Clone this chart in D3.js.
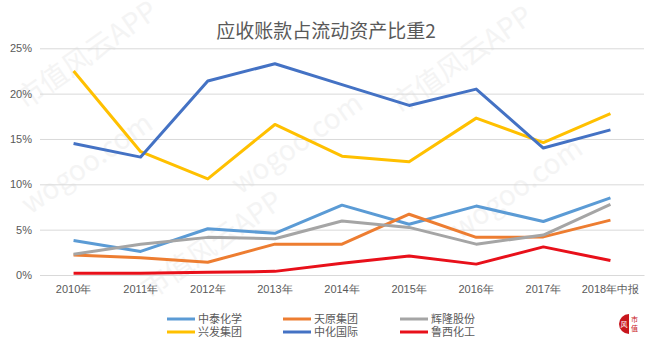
<!DOCTYPE html>
<html>
<head>
<meta charset="utf-8">
<script src="https://cdn.jsdelivr.net/npm/d3@7"></script>
<style>
    body { margin: 0; background: #fff; }
    svg { display: block; font-family: "Noto Sans CJK SC", "Noto Sans", sans-serif; }
</style>
</head>
<body>
<div id="chart"></div>
<script>
// categories and series (percent of current assets)
var years = ["2010年", "2011年", "2012年", "2013年", "2014年", "2015年", "2016年", "2017年", "2018年中报"];
var yTicks = [0, 5, 10, 15, 20, 25];

var zhongtai = [3.8, 2.6, 5.1, 4.6, 7.7, 5.6, 7.6, 5.9, 8.5];
var tianyuan = [2.2, 1.9, 1.4, 3.4, 3.4, 6.7, 4.15, 4.2, 6.05];
var huilong = [2.3, 3.4, 4.15, 4.0, 5.95, 5.25, 3.4, 4.4, 7.8];
var xingfa = [22.5, 13.6, 10.6, 16.6, 13.1, 12.5, 17.3, 14.6, 17.8];
var zhonghua = [14.5, 13.0, 21.4, 23.3, 21.0, 18.7, 20.5, 14.0, 16.0];
var luxi = [0.2, 0.2, 0.3, 0.4, 1.3, 2.1, 1.2, 3.1, 1.6];

var seriesNames = ["中泰化学", "天原集团", "辉隆股份", "兴发集团", "中化国际", "鲁西化工"];
var seriesColors = ["#5b9bd5", "#ed7d31", "#a5a5a5", "#ffc000", "#4472c4", "#e8101a"];
var seriesValues = [zhongtai, tianyuan, huilong, xingfa, zhonghua, luxi];

var width = 652, height = 349;

var svg = d3.select("#chart").append("svg")
    .attr("width", width)
    .attr("height", height);

// faint watermark
var marks = [
    { t: "市值风云APP", x: 25, y: 110 },
    { t: "wogoo.com", x: 30, y: 215 },
    { t: "市值风云APP", x: 150, y: 300 },
    { t: "wogoo.com", x: 240, y: 195 },
    { t: "市值风云APP", x: 400, y: 115 },
    { t: "wogoo.com", x: 460, y: 240 }
];
svg.append("g").selectAll("text")
    .data(marks)
    .enter().append("text")
    .attr("transform", function (d) { return "translate(" + d.x + "," + d.y + ") rotate(-35)"; })
    .attr("font-size", 28)
    .attr("fill", "#f4f4f4")
    .text(function (d) { return d.t; });

var x = d3.scaleBand().domain(years).range([40, 644]);
var y = d3.scaleLinear().domain([0, 25]).range([275, 48.3]);

// title
svg.append("text")
    .attr("x", 326)
    .attr("y", 38)
    .attr("text-anchor", "middle")
    .attr("font-size", 19)
    .attr("fill", "#595959")
    .text("应收账款占流动资产比重2");

// gridlines + y labels
var yAxis = svg.append("g")
    .attr("transform", "translate(40,0)")
    .call(d3.axisLeft(y).tickValues(yTicks).tickSize(-604).tickPadding(8)
        .tickFormat(function (d) { return d + "%"; }));
yAxis.select(".domain").remove();
yAxis.selectAll("line").attr("stroke", "#d9d9d9");
yAxis.selectAll("text").attr("fill", "#595959").attr("font-size", 11);

// x labels
var xAxis = svg.append("g")
    .attr("transform", "translate(0,275)")
    .call(d3.axisBottom(x).tickSize(0).tickPadding(10));
xAxis.select(".domain").attr("stroke", "#d9d9d9");
xAxis.selectAll("text").attr("fill", "#595959").attr("font-size", 11);

var line = d3.line()
    .x(function (d, i) { return x(years[i]) + x.bandwidth() / 2; })
    .y(function (d) { return y(d); });

svg.append("g").selectAll("path")
    .data(seriesValues)
    .enter().append("path")
    .attr("d", line)
    .attr("fill", "none")
    .attr("stroke", function (d, i) { return seriesColors[i]; })
    .attr("stroke-width", 3)
    .attr("stroke-linejoin", "round");

// legend, 3 columns x 2 rows
var colX = [167, 283, 400];
var rowY = [319, 332];
var legend = svg.append("g").selectAll("g")
    .data(seriesNames)
    .enter().append("g")
    .attr("transform", function (d, i) {
        return "translate(" + colX[i % 3] + "," + rowY[Math.floor(i / 3)] + ")";
    });
legend.append("line")
    .attr("x1", 0).attr("x2", 28)
    .attr("stroke", function (d, i) { return seriesColors[i]; })
    .attr("stroke-width", 3);
legend.append("text")
    .attr("x", 31)
    .attr("dy", "0.36em")
    .attr("font-size", 11)
    .attr("fill", "#595959")
    .text(function (d) { return d; });

// small seal in the corner
var seal = svg.append("g").attr("transform", "translate(629,324)");
seal.append("path")
    .attr("d", d3.arc()({ innerRadius: 0, outerRadius: 10, startAngle: Math.PI, endAngle: 2 * Math.PI }))
    .attr("fill", "#c8161d");
seal.append("text").attr("x", 2).attr("y", -2).attr("font-size", 7).attr("fill", "#c8161d").text("市");
seal.append("text").attr("x", 2).attr("y", 7).attr("font-size", 7).attr("fill", "#c8161d").text("值");
seal.append("text").attr("x", -5).attr("y", 3).attr("text-anchor", "middle").attr("font-size", 7).attr("fill", "#fff").text("风");
</script>
</body>
</html>
